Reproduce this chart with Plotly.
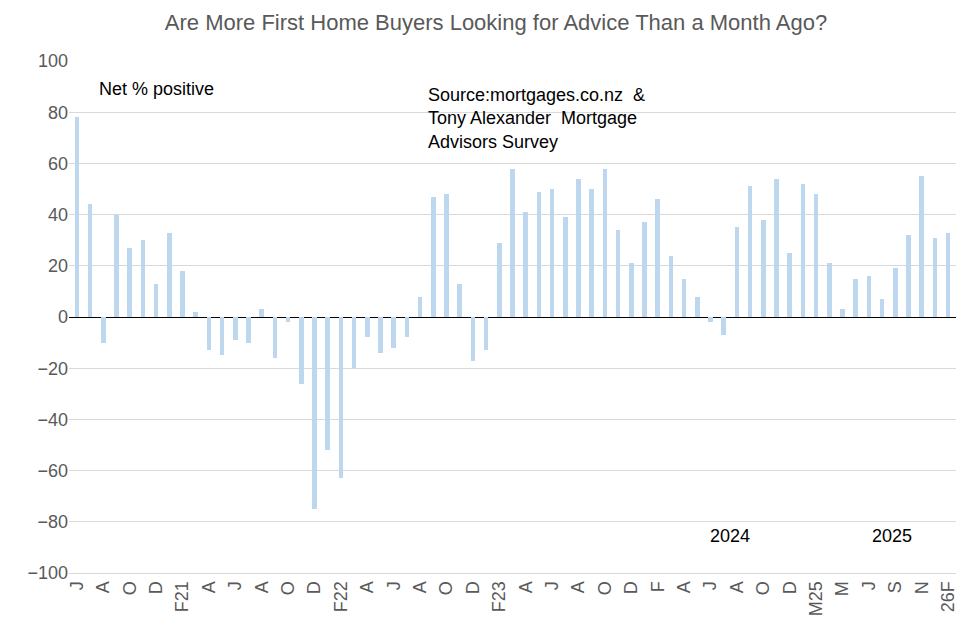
import plotly.graph_objects as go

# monthly net % positive, in order
values = [78, 44, -10, 40, 27, 30, 13, 33, 18, 2, -13, -15, -9, -10, 3, -16, -2, -26,
          -75, -52, -63, -20, -8, -14, -12, -8, 8, 47, 48, 13, -17, -13, 29, 58, 41, 49,
          50, 39, 54, 50, 58, 34, 21, 37, 46, 24, 15, 8, -2, -7, 35, 51, 38, 54, 25, 52,
          48, 21, 3, 15, 16, 7, 19, 32, 55, 31, 33]
tick_pos = [0, 2, 4, 6, 8, 10, 12, 14, 16, 18, 20, 22, 24, 26, 28, 30, 32, 34, 36, 38,
            40, 42, 44, 46, 48, 50, 52, 54, 56, 58, 60, 62, 64, 66]
tick_labels = ["J", "A", "O", "D", "F21", "A", "J", "A", "O", "D", "F22", "A", "J", "A",
               "O", "D", "F23", "A", "J", "A", "O", "D", "F", "A", "J", "A", "O", "D",
               "M25", "M", "J", "S", "N", "26F"]

x = list(range(len(values)))
fig = go.Figure(go.Bar(x=x, y=values, width=0.34, marker_color="#BDD7EE",
                       marker_line_width=0))

font = "Liberation Sans, Arial, sans-serif"
fig.update_layout(
    width=976, height=637, plot_bgcolor="white", paper_bgcolor="white",
    margin=dict(l=61, r=28, t=53, b=72),
    font=dict(family=font, size=18, color="#595959"),
    title=dict(text="Are More First Home Buyers Looking for Advice Than a Month Ago?",
               x=0.5, xanchor="center", y=0.99, yanchor="top",
               font=dict(size=22, color="#595959")),
    showlegend=False, bargap=0,
)
fig.update_xaxes(range=[-0.6, len(values) - 0.4], tickvals=tick_pos, ticktext=tick_labels,
                 tickangle=-90, showgrid=False, showline=True, linecolor="#d9d9d9",
                 ticks="", automargin=False, tickfont=dict(size=18, color="#595959"))
fig.update_yaxes(range=[-100, 100], dtick=20, showgrid=True, gridcolor="#d9d9d9",
                 zeroline=True, zerolinecolor="#000000", zerolinewidth=1,
                 automargin=False, tickfont=dict(size=18, color="#595959"))

ann = dict(xref="paper", yref="paper", showarrow=False, xanchor="left", align="left",
           font=dict(family=font, size=18, color="black"))
fig.add_annotation(x=0.032, y=0.968, text="Net % positive", **ann)
fig.add_annotation(x=0.403, y=0.957, yanchor="top",
                   text="Source:mortgages.co.nz  &<br>Tony Alexander  Mortgage<br>Advisors Survey",
                   **ann)
fig.add_annotation(x=0.72, y=0.048, text="2024", **ann)
fig.add_annotation(x=0.903, y=0.048, text="2025", **ann)

fig.write_html("out.html")
